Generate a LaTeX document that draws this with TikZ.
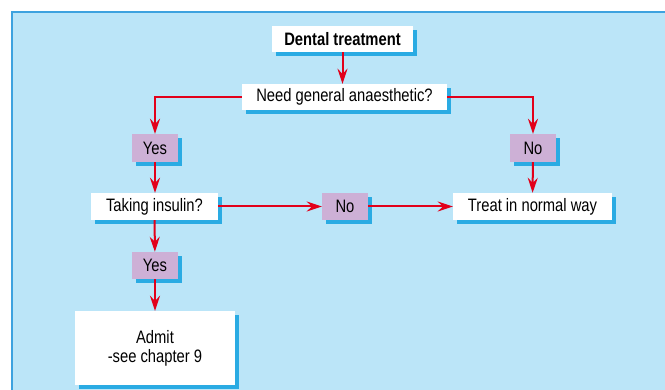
\documentclass[tikz,border=0pt]{standalone}
\usepackage{fontspec}
\setmainfont{Liberation Sans}[FakeStretch=0.82]
\usetikzlibrary{arrows.meta, shadows}

\definecolor{panelblue}{HTML}{BBE5F8}
\definecolor{edgeblue}{HTML}{3DA2DF}
\definecolor{shadeblue}{HTML}{2AABE3}
\definecolor{flowred}{HTML}{E2001A}
\definecolor{tagpurple}{HTML}{CDB0D6}

\begin{document}
\begin{tikzpicture}[
  x=1pt, y=-1pt,
  font=\fontsize{18}{19}\selectfont,
  boxbase/.style={inner sep=0pt, align=center,
    drop shadow={shadow xshift=4pt, shadow yshift=-4pt, fill=shadeblue, opacity=1}},
  whitebox/.style={boxbase, fill=white},
  tagbox/.style={boxbase, fill=tagpurple, minimum width=46pt, minimum height=28pt},
  flow/.style={draw=flowred, line width=2pt, -{Stealth[length=15pt, width=10pt, inset=5pt]}},
]

% panel
\useasboundingbox (0,0) rectangle (665,390);
\fill[panelblue] (12,12) rectangle (665,390);
\draw[edgeblue, line width=1.6pt] (12,390) -- (12,12) -- (665,12);

% boxes
\node[whitebox, minimum width=141pt, minimum height=26pt, font=\fontsize{18}{19}\selectfont\bfseries]
  (dental) at (342.5,39) {Dental treatment};
\node[whitebox, minimum width=205pt, minimum height=26pt] (anaes) at (344.5,97) {Need general anaesthetic?};
\node[tagbox] (yesA) at (155,148) {Yes};
\node[tagbox] (noA) at (533,148) {No};
\node[whitebox, minimum width=127pt, minimum height=27pt] (insulin) at (154.5,206.5) {Taking insulin?};
\node[tagbox, minimum height=27pt] (noB) at (345,206.5) {No};
\node[whitebox, minimum width=159pt, minimum height=27pt] (treat) at (532.5,206.5) {Treat in normal way};
\node[tagbox, minimum height=27pt] (yesB) at (155,265.5) {Yes};
\node[whitebox, minimum width=160pt, minimum height=74pt] (admit) at (155,348) {Admit\\-see chapter 9};

% connectors
\draw[flow] (dental) -- (dental |- anaes.north);
\draw[flow] (anaes.west) -| (yesA.north);
\draw[flow] (anaes.east) -| (noA.north);
\draw[flow] (yesA) -- (yesA |- insulin.north);
\draw[flow] (noA) -- (treat);
\draw[flow] (insulin) -- (noB);
\draw[flow] (noB) -- (treat);
\draw[flow] (insulin) -- (yesB);
\draw[flow] (yesB) -- (admit);

\end{tikzpicture}
\end{document}
